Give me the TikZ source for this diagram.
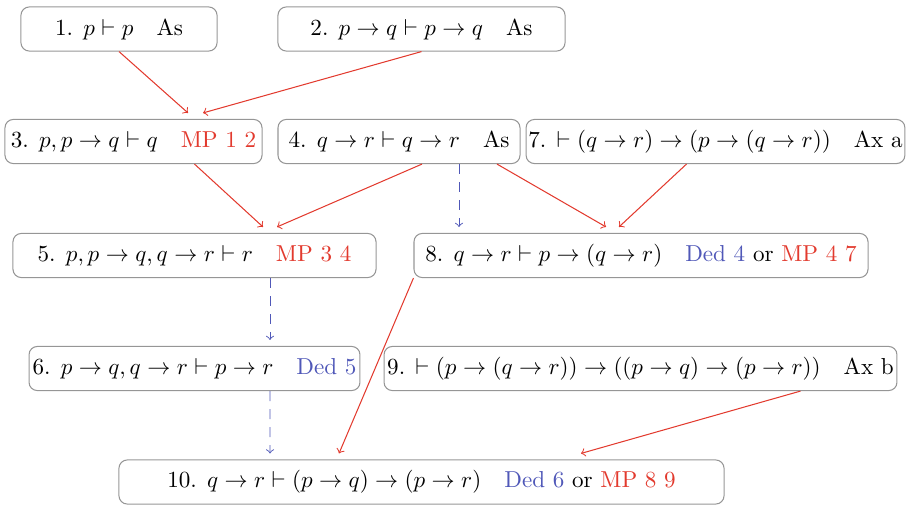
\documentclass[tikz,border=0pt]{standalone}
\usetikzlibrary{calc}
\definecolor{mpred}{RGB}{226,58,46}
\definecolor{dedblue}{RGB}{80,88,184}
\definecolor{boxgray}{RGB}{150,150,150}
\begin{document}
\begin{tikzpicture}[x=0.433pt,y=-0.433pt,
  stepbox/.style={draw=boxgray, line width=0.45pt, rounded corners=3.6pt,
    minimum height=19.1pt, inner xsep=1pt, inner ysep=2pt, align=center},
  mp/.style={draw=mpred, line width=0.45pt, ->},
  ded/.style={draw=dedblue, line width=0.4pt, ->, dash pattern=on 4.3pt off 3.5pt}]
\useasboundingbox (0,0) rectangle (911,506);
\newcommand{\MPc}[1]{\textcolor{mpred}{#1}}
\newcommand{\Dedc}[1]{\textcolor{dedblue}{#1}}
\node[stepbox, minimum width=84.9pt] (n1) at (119,29) {1. $p \vdash p$\quad As};
\node[stepbox, minimum width=124.3pt] (n2) at (421.5,29) {2. $p\to q \vdash p \to q$\quad As};
\node[stepbox, minimum width=111.3pt] (n3) at (133.5,141.5) {3. $p, p\to q \vdash q$\quad\MPc{MP 1 2}};
\node[stepbox, minimum width=104.8pt] (n4) at (399,141.5) {4. $q\to r \vdash q \to r$\quad As};
\node[stepbox, minimum width=163.2pt] (n7) at (715.5,141.5) {7. $\vdash (q\to r)\to(p\to(q\to r))$\quad Ax a};
\node[stepbox, minimum width=157.2pt] (n5) at (194.5,255.5) {5. $p, p\to q, q\to r \vdash r$\quad\MPc{MP 3 4}};
\node[stepbox, minimum width=196.6pt] (n8) at (641,255.5) {8. $q\to r \vdash p\to(q\to r)$\quad\Dedc{Ded 4} or \MPc{MP 4 7}};
\node[stepbox, minimum width=143.3pt] (n6) at (194.5,368.5) {6. $p\to q, q\to r \vdash p\to r$\quad\Dedc{Ded 5}};
\node[stepbox, minimum width=222.1pt] (n9) at (640.5,368.5) {9. $\vdash (p\to(q\to r))\to((p\to q)\to(p\to r))$\quad Ax b};
\node[stepbox, minimum width=262.0pt] (n10) at (421.5,482) {10. $q\to r \vdash (p\to q)\to(p\to r)$\quad\Dedc{Ded 6} or \MPc{MP 8 9}};
% connectors
\draw[mp] (n1.south) -- ($(n3.north)+(54.5,-6)$);
\draw[mp] (n2.south) -- ($(n3.north)+(69.5,-6)$);
\draw[mp] ($(n3.south)+(61,0)$) -- ($(n5.north)+(68.5,-6)$);
\draw[mp] ($(n4.south)+(23,0)$) -- ($(n5.north)+(82.5,-6)$);
\draw[ded] ($(n4.south)+(60,0)$) -- ($(n8.north)+(-182,-6)$);
\draw[mp] ($(n4.south)+(98,0)$) -- ($(n8.north)+(-35,-6)$);
\draw[mp] ($(n7.south)+(-29,0)$) -- ($(n8.north)+(-22,-6)$);
\draw[ded] ($(n5.south)+(75.5,0)$) -- ($(n6.north)+(75.5,-6)$);
\draw[ded] ($(n6.south)+(75.5,0)$) -- ($(n10.north)+(-151.5,-6)$);
\draw[mp] (n8.south west) -- ($(n10.north)+(-82.5,-6)$);
\draw[mp] ($(n9.south)+(160,0)$) -- ($(n10.north)+(159.5,-6)$);
\end{tikzpicture}
\end{document}
